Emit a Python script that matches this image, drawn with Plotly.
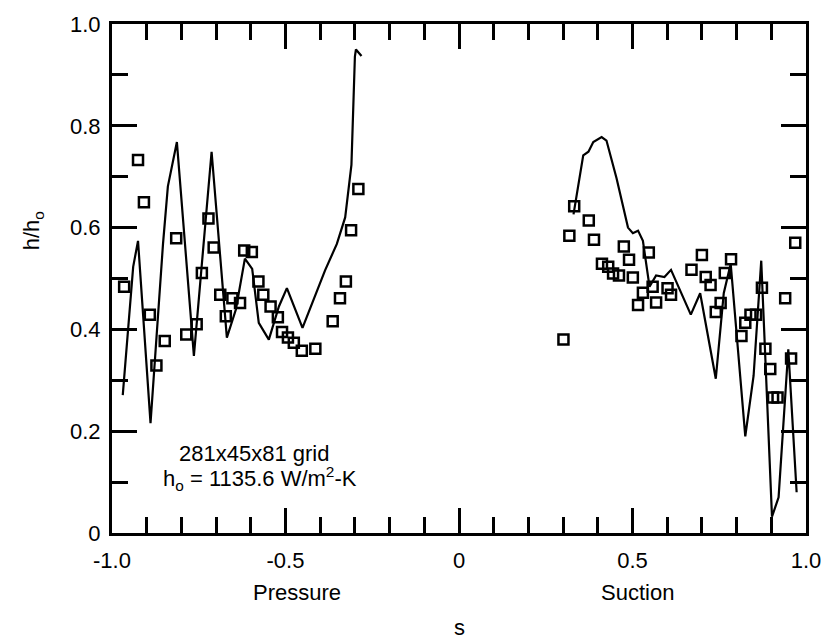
import plotly.graph_objects as go

# Computed line (pressure side)
line_p_s = [-0.969, -0.939, -0.925, -0.889, -0.853, -0.839, -0.813, -0.764, -0.713, -0.669,
            -0.643, -0.617, -0.596, -0.577, -0.548, -0.519, -0.496, -0.451, -0.386, -0.352,
            -0.328, -0.310, -0.300, -0.297, -0.281]
line_p_h = [0.271, 0.523, 0.574, 0.216, 0.568, 0.681, 0.768, 0.348, 0.749, 0.384,
            0.439, 0.539, 0.519, 0.413, 0.380, 0.445, 0.481, 0.403, 0.516, 0.568,
            0.620, 0.723, 0.936, 0.950, 0.937]

# Computed line (suction side)
line_s_s = [0.330, 0.358, 0.373, 0.387, 0.411, 0.425, 0.454, 0.487, 0.501, 0.516,
            0.530, 0.549, 0.568, 0.592, 0.611, 0.668, 0.695, 0.740, 0.763, 0.783,
            0.825, 0.849, 0.871, 0.902, 0.921, 0.949, 0.973]
line_s_h = [0.626, 0.742, 0.749, 0.768, 0.778, 0.771, 0.697, 0.600, 0.589, 0.594,
            0.574, 0.484, 0.506, 0.503, 0.517, 0.429, 0.471, 0.303, 0.471, 0.529,
            0.190, 0.309, 0.535, 0.032, 0.070, 0.361, 0.080]

# Measured data (squares)
exp_s = [-0.965, -0.925, -0.908, -0.891, -0.872, -0.848, -0.815, -0.786, -0.756, -0.741,
         -0.722, -0.707, -0.688, -0.672, -0.653, -0.631, -0.619, -0.597, -0.578, -0.564,
         -0.543, -0.522, -0.510, -0.493, -0.476, -0.453, -0.414, -0.364, -0.343, -0.326,
         -0.311, -0.290,
         0.301, 0.318, 0.332, 0.374, 0.389, 0.412, 0.430, 0.444, 0.461, 0.475,
         0.490, 0.501, 0.516, 0.530, 0.547, 0.558, 0.568, 0.601, 0.611, 0.670,
         0.700, 0.711, 0.725, 0.740, 0.754, 0.766, 0.784, 0.814, 0.825, 0.840,
         0.856, 0.873, 0.883, 0.897, 0.905, 0.918, 0.940, 0.957, 0.969]
exp_h = [0.484, 0.733, 0.650, 0.429, 0.329, 0.377, 0.579, 0.390, 0.410, 0.511,
         0.618, 0.561, 0.468, 0.426, 0.461, 0.452, 0.555, 0.552, 0.494, 0.468,
         0.445, 0.424, 0.395, 0.384, 0.374, 0.358, 0.362, 0.416, 0.461, 0.494,
         0.595, 0.676,
         0.380, 0.584, 0.642, 0.614, 0.576, 0.529, 0.523, 0.510, 0.506, 0.563,
         0.537, 0.502, 0.448, 0.472, 0.551, 0.484, 0.453, 0.481, 0.468, 0.517,
         0.546, 0.503, 0.487, 0.434, 0.452, 0.511, 0.538, 0.387, 0.413, 0.429,
         0.429, 0.482, 0.362, 0.322, 0.266, 0.266, 0.461, 0.343, 0.570]

x_tickvals = [-1.0, -0.5, 0, 0.5, 1.0]
x_ticktext = ["-1.0", "-0.5", "0", "0.5", "1.0"]
y_tickvals = [0, 0.2, 0.4, 0.6, 0.8, 1.0]
y_ticktext = ["0", "0.2", "0.4", "0.6", "0.8", "1.0"]

FONT = "Liberation Sans, Arial, sans-serif"

fig = go.Figure()
fig.add_trace(go.Scatter(x=line_p_s, y=line_p_h, mode="lines",
                         line=dict(color="black", width=2.2), showlegend=False))
fig.add_trace(go.Scatter(x=line_s_s, y=line_s_h, mode="lines",
                         line=dict(color="black", width=2.2), showlegend=False))
fig.add_trace(go.Scatter(x=exp_s, y=exp_h, mode="markers",
                         marker=dict(symbol="square-open", size=10, color="black",
                                     line=dict(width=2.5, color="black")),
                         showlegend=False))

axis_common = dict(showgrid=False, zeroline=False, showline=True, linecolor="black",
                   linewidth=3, mirror="ticks", ticks="inside", tickwidth=2.5,
                   ticklen=25, tickcolor="black",
                   tickfont=dict(family=FONT, size=22, color="black"))

fig.update_xaxes(range=[-1, 1], tickvals=x_tickvals, ticktext=x_ticktext,
                 ticklabelstandoff=6,
                 minor=dict(dtick=0.1, tick0=0, ticks="inside", ticklen=16,
                            tickwidth=2.5, tickcolor="black", showgrid=False),
                 **axis_common)
fig.update_yaxes(range=[0, 1], tickvals=y_tickvals, ticktext=y_ticktext,
                 ticklabelstandoff=4,
                 minor=dict(dtick=0.1, tick0=0, ticks="inside", ticklen=16,
                            tickwidth=2.5, tickcolor="black", showgrid=False),
                 **axis_common)

ann_font = dict(family=FONT, size=22, color="black")
def note(x, y, text, xref="x", yref="y", angle=0):
    fig.add_annotation(x=x, y=y, xref=xref, yref=yref, text=text, showarrow=False,
                       xanchor="center", yanchor="middle", textangle=angle, font=ann_font)

note(-0.591, 0.157, "281x45x81 grid")
note(-0.574, 0.107, "h<sub>o</sub> = 1135.6 W/m<sup>2</sup>-K")
note(-0.468, -0.116, "Pressure", yref="paper")
note(0.514, -0.116, "Suction", yref="paper")
note(0, -0.186, "s", yref="paper")
note(-0.1144, 0.594, "h/h<sub>o</sub>", xref="paper", yref="paper", angle=-90)

fig.update_layout(width=833, height=639, margin=dict(l=112, r=22, t=17, b=106),
                  plot_bgcolor="white", paper_bgcolor="white",
                  font=dict(family=FONT, size=22, color="black"))

fig.write_html("out.html")
